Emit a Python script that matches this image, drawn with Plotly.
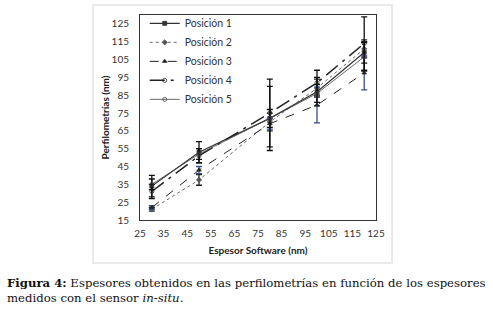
import plotly.graph_objects as go

x_vals = [30, 50, 80, 100, 120]
series_names = ["Posición 1", "Posición 2", "Posición 3", "Posición 4", "Posición 5"]
pos1 = [34, 53, 72, 87, 109]
pos2 = [21, 37.5, 70, 89, 111]
pos3 = [22, 43, 69, 79.5, 97.5]
pos4 = [31, 51, 75, 92, 114]
pos5 = [35, 52, 72, 86, 106.5]
err1 = [6, 6, 18, 8, 6]
err2 = [1, 3, 5, 5, 5]
err3 = [1, 2, 3, 10, 9.5]
err4 = [4, 4, 19, 7, 15]
err5 = [3, 3, 5, 5, 8]
x_ticks = [25, 35, 45, 55, 65, 75, 85, 95, 105, 115, 125]
y_ticks = [15, 25, 35, 45, 55, 65, 75, 85, 95, 105, 115, 125]

values = [pos1, pos2, pos3, pos4, pos5]
errors = [err1, err2, err3, err4, err5]
styles = [
    dict(dash="solid", width=1.2, color="#333333", symbol="square", ecolor="#111111"),
    dict(dash="dot", width=0.9, color="#555555", symbol="diamond", ecolor="#222222"),
    dict(dash="dash", width=1.0, color="#222222", symbol="triangle-up", ecolor="#3b4a8a"),
    dict(dash="longdashdot", width=1.5, color="#222222", symbol="circle-open", ecolor="#111111"),
    dict(dash="solid", width=0.8, color="#444444", symbol="circle-open", ecolor="#111111"),
]

fig = go.Figure()
for name, y, e, s in zip(series_names, values, errors, styles):
    fig.add_trace(go.Scatter(
        x=x_vals, y=y, name=name, mode="lines+markers",
        line=dict(color=s["color"], width=s["width"], dash=s["dash"]),
        marker=dict(symbol=s["symbol"], size=4, color=s["color"], line=dict(width=0.8, color=s["color"])),
        error_y=dict(type="data", array=e, visible=True, color=s["ecolor"], thickness=1.3, width=3),
    ))

fig.update_layout(
    width=493, height=312,
    margin=dict(l=140, r=117, t=15, b=92, autoexpand=False),
    paper_bgcolor="white", plot_bgcolor="white",
    font=dict(family="Lato, Open Sans, sans-serif", size=10, color="#222222"),
    showlegend=True,
    legend=dict(x=0.02, y=1.03, xanchor="left", yanchor="top", bgcolor="rgba(0,0,0,0)",
                font=dict(size=10.5, color="#333333"), itemwidth=30, tracegroupgap=0),
    xaxis=dict(range=[25, 125], tickvals=x_ticks, showgrid=False, zeroline=False, automargin=False,
               showline=True, linecolor="#333333", linewidth=1, mirror=True,
               ticks="", ticklabelstandoff=4, tickfont=dict(size=10, color="#333333"),
               title=dict(text="<b>Espesor Software (nm)</b>", font=dict(size=10, color="#222222"), standoff=8)),
    yaxis=dict(range=[15, 130], tickvals=y_ticks, showgrid=False, zeroline=False, automargin=False,
               showline=True, linecolor="#333333", linewidth=1, mirror=True,
               ticks="", ticklabelstandoff=8, tickfont=dict(size=10, color="#333333"),
               title=dict(text="<b>Perfilometrías (nm)</b>", font=dict(size=10, color="#222222"), standoff=0)),
    shapes=[dict(type="rect", xref="paper", yref="paper", x0=-0.199, x1=1.068, y0=-0.21, y1=1.049,
                 line=dict(color="#e3e3e3", width=1.5), layer="below")],
    annotations=[
        dict(xref="paper", yref="paper", x=-0.572, y=-0.307, xanchor="left", yanchor="middle", showarrow=False,
             text="<b>Figura 4:</b> Espesores obtenidos en las perfilometrías en función de los espesores",
             font=dict(family="DejaVu Serif, Liberation Serif, serif", size=11.7, color="#111111")),
        dict(xref="paper", yref="paper", x=-0.572, y=-0.380, xanchor="left", yanchor="middle", showarrow=False,
             text="medidos con el sensor <i>in-situ</i>.",
             font=dict(family="DejaVu Serif, Liberation Serif, serif", size=11.7, color="#111111")),
    ],
)

fig.write_html("out.html", config={"displayModeBar": False},
               post_script="document.body.style.margin='0';")
